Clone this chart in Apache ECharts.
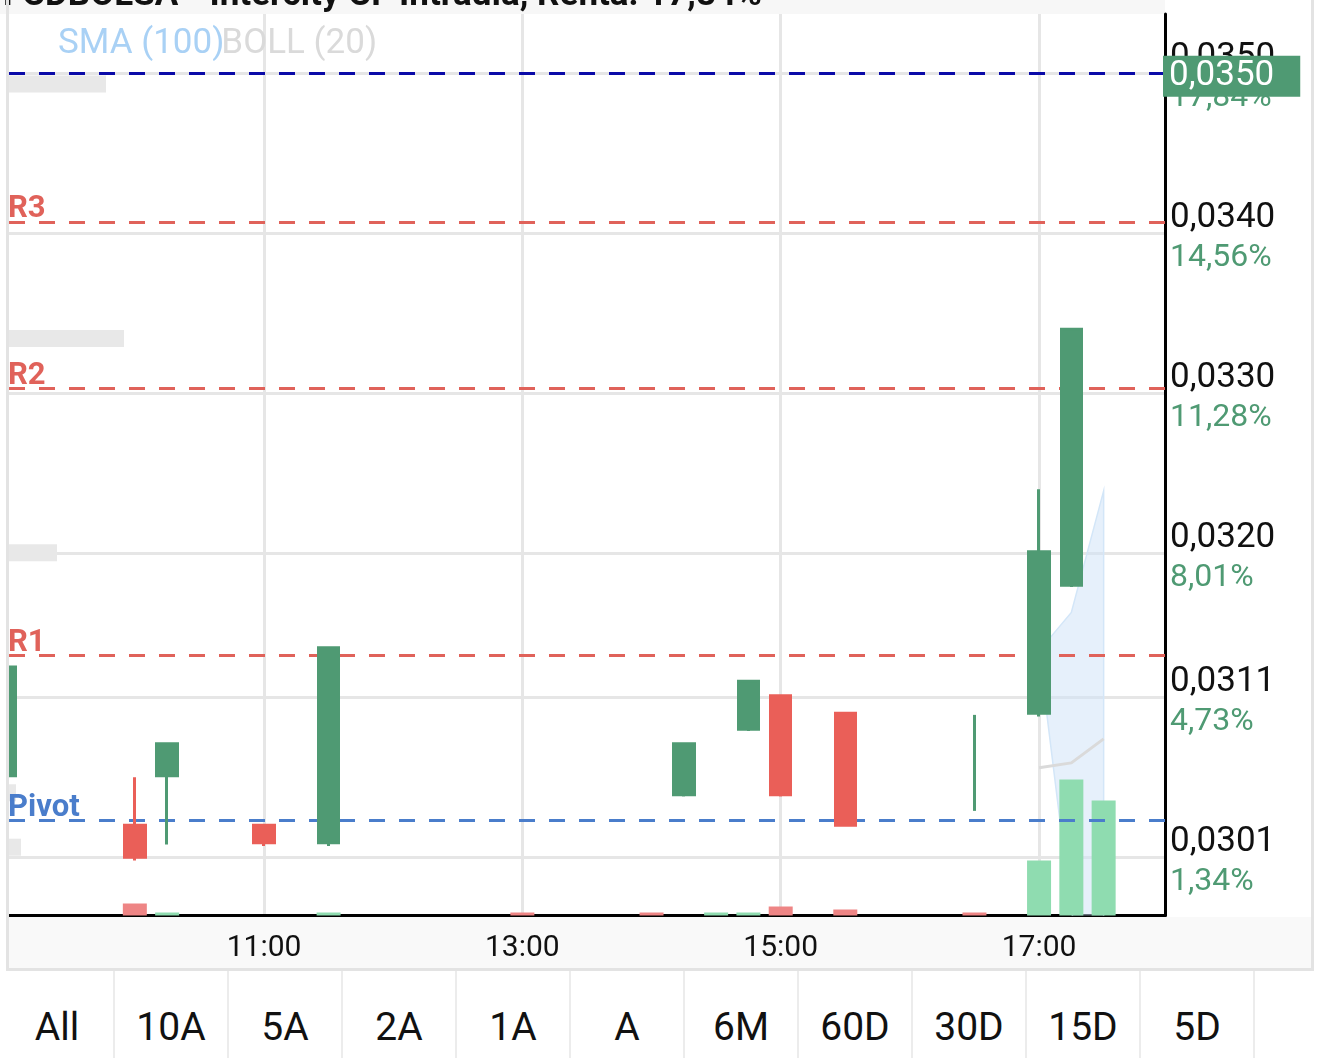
<!DOCTYPE html>
<html>
<head>
<meta charset="utf-8">
<title>FCDBOLSA - Intercity CF Intradía</title>
<script src="https://cdn.jsdelivr.net/npm/echarts@6/dist/echarts.min.js"></script>
<style>
  body { margin: 0; background: #fff; font-family: Roboto, sans-serif; }
  #chart { position: absolute; left: 0; top: 0; width: 1320px; height: 971px; }
  #ranges { position: absolute; left: 1px; top: 971px; height: 87px; display: flex; }
  #ranges div {
    width: 114px; height: 87px; box-sizing: border-box; border-right: 2px solid #ececec;
    text-align: center; line-height: 112px; font-size: 39px; color: #111; overflow: hidden;
  }
</style>
</head>
<body>
<div id="chart"></div>
<div id="ranges"></div>
<script>
// ---- data ----
const titleText = 'FCDBOLSA - Intercity CF Intradía, Renta: 17,84%'

const xTickTimes = ['11:00', '13:00', '15:00', '17:00']
const yTickValues = [0.0301, 0.0311, 0.0320, 0.0330, 0.0340, 0.0350]
const yTickPrices = ['0,0301', '0,0311', '0,0320', '0,0330', '0,0340', '0,0350']
const yTickPercents = ['1,34%', '4,73%', '8,01%', '11,28%', '14,56%', '17,84%']

// 15 minute candles
const candleTimes = ['09:00', '10:00', '10:15', '11:00', '11:30', '14:15', '14:45', '15:00', '15:30', '16:30', '17:00', '17:15']
const opens  = [0.03061, 0.03030, 0.03061, 0.03030, 0.03019, 0.03049, 0.03090, 0.03111, 0.03100, 0.03039, 0.03100, 0.03180]
const closes = [0.03129, 0.03010, 0.03081, 0.03019, 0.03141, 0.03081, 0.03120, 0.03049, 0.03030, 0.03039, 0.03201, 0.03340]
const lows   = [0.03061, 0.03008, 0.03018, 0.03017, 0.03017, 0.03048, 0.03089, 0.03048, 0.03029, 0.03039, 0.03098, 0.03179]
const highs  = [0.03129, 0.03060, 0.03081, 0.03030, 0.03141, 0.03081, 0.03120, 0.03111, 0.03100, 0.03099, 0.03240, 0.03340]

// volume
const volTimes = ['10:00', '10:15', '11:30', '13:00', '14:00', '14:30', '14:45', '15:00', '15:30', '16:30', '17:00', '17:15', '17:30']
const volumes  = [120, 30, 30, 30, 30, 30, 30, 90, 60, 30, 550, 1360, 1150]
const volDir   = [-1, 1, 1, -1, -1, 1, 1, -1, -1, -1, 1, 1, 1]

// BOLL (20)
const bollTimes = ['17:00', '17:15', '17:30']
const bollUpper = [0.03139, 0.03163, 0.03239]
const bollMid   = [0.03066, 0.03069, 0.03084]
const bollLower = [0.03139, 0.02975, 0.02930]

// pivot levels
const levelNames  = ['R3', 'R2', 'R1', 'Pivot']
const levelValues = [0.03407, 0.03303, 0.03136, 0.03033]
const lastPrice = 0.0350

// volume at price (left edge)
const profilePrices  = [0.03493, 0.03334, 0.03200, 0.03050, 0.03016]
const profileVolumes = [97, 115, 48, 7, 12]

const rangeButtons = ['All', '10A', '5A', '2A', '1A', 'A', '6M', '60D', '30D', '15D', '5D', '']

// ---- helpers ----
const toMin = t => { const [h, m] = t.split(':').map(Number); return h * 60 + m }
const pad = n => String(n).padStart(2, '0')
const fmtTime = v => pad(Math.floor(v / 60)) + ':' + pad(Math.round(v % 60))
const fmtPrice = v => v.toFixed(4).replace('.', ',')

const green = '#4f9a73'
const red = '#ea5f58'

const candleData = []
const dojiData = []
candleTimes.forEach((t, i) => {
  const row = [toMin(t), opens[i], closes[i], lows[i], highs[i]]
  if (opens[i] === closes[i]) dojiData.push(row)
  else candleData.push(row)
})

const levelLines = levelNames.map((n, i) => {
  const c = n === 'Pivot' ? '#4a7dcb' : '#e0625a'
  return {
    name: n,
    yAxis: levelValues[i],
    lineStyle: { color: c, type: [16, 14], width: 3 },
    label: {
      show: true, position: 'insideStartTop', formatter: n, color: c,
      fontSize: 31, fontWeight: 'bold', distance: [-1, -3]
    }
  }
})
levelLines.push({
  name: 'last',
  yAxis: lastPrice,
  lineStyle: { color: '#0a0aa8', type: [16, 14], width: 3 },
  label: {
    show: true, position: 'end', formatter: fmtPrice(lastPrice), color: '#fff',
    backgroundColor: green, fontSize: 35, padding: [4, 26, 2, 6], distance: -2, offset: [0, 3]
  }
})

document.getElementById('ranges').innerHTML = rangeButtons.map(b => '<div>' + b + '</div>').join('')

const myChart = echarts.init(document.getElementById('chart'))
myChart.setOption({
  animation: false,
  backgroundColor: '#fff',
  textStyle: { fontFamily: 'Roboto' },
  title: {
    text: titleText, left: -2, top: -26,
    textStyle: { fontSize: 35, fontWeight: 'bold', color: '#111', fontFamily: 'Roboto' }
  },
  legend: {
    left: 53, top: 27, padding: 0, itemWidth: 0, itemHeight: 0, itemGap: -8,
    icon: 'rect', selectedMode: false,
    textStyle: { fontSize: 35 },
    data: [
      { name: 'SMA (100)', textStyle: { color: '#a9d1f5' } },
      { name: 'BOLL (20)', textStyle: { color: '#dadada' } }
    ]
  },
  graphic: [
    { type: 'rect', z: -10, shape: { x: 0, y: 0, width: 1165, height: 14 }, style: { fill: '#f7f7f7' } },
    { type: 'rect', z: -10, shape: { x: 9, y: 917, width: 1302, height: 51 }, style: { fill: '#f9f9f9' } },
    { type: 'rect', z: 100, shape: { x: 0, y: 14, width: 6, height: 957 }, style: { fill: '#fff' } },
    { type: 'rect', z: 100, shape: { x: 6, y: 0, width: 3, height: 971 }, style: { fill: '#e3e3e3' } },
    { type: 'rect', z: -10, shape: { x: 1311, y: 0, width: 3, height: 971 }, style: { fill: '#e3e3e3' } },
    { type: 'rect', z: -10, shape: { x: 6, y: 968, width: 1308, height: 3 }, style: { fill: '#e3e3e3' } }
  ],
  grid: { left: 9, right: 155, top: 14, bottom: 55.5, containLabel: false },
  xAxis: [
    {
      type: 'value', min: 541.55, max: 1078.5, position: 'bottom',
      axisLine: { show: true, onZero: false, lineStyle: { color: '#000', width: 3 } },
      axisTick: { show: false, customValues: xTickTimes.map(toMin) },
      axisLabel: {
        customValues: xTickTimes.map(toMin), formatter: fmtTime,
        fontSize: 30, color: '#111', margin: 18
      },
      splitLine: { show: true, lineStyle: { color: '#e6e6e6', width: 3 } }
    },
    { type: 'value', min: 0, max: 1156, show: false }
  ],
  yAxis: [
    {
      type: 'value', min: 0.029736, max: 0.035371, position: 'right',
      axisLine: { show: true, onZero: false, lineStyle: { color: '#000', width: 3 } },
      axisTick: { show: false, customValues: yTickValues },
      axisLabel: {
        customValues: yTickValues, margin: 5, padding: [10, 0, 0, 0],
        formatter: v => {
          let k = 0
          yTickValues.forEach((t, i) => { if (Math.abs(t - v) < Math.abs(yTickValues[k] - v)) k = i })
          return '{p|' + yTickPrices[k] + '}\n{q|' + yTickPercents[k] + '}'
        },
        rich: {
          p: { fontSize: 35, color: '#111', lineHeight: 40, fontFamily: 'Roboto' },
          q: { fontSize: 32, color: green, lineHeight: 40, fontFamily: 'Roboto' }
        }
      },
      splitLine: { show: true, lineStyle: { color: '#e6e6e6', width: 3 } }
    },
    { type: 'value', min: 0, max: 9015, show: false }
  ],
  series: [
    {
      type: 'custom', xAxisIndex: 1, yAxisIndex: 0, z: 1, silent: true,
      data: profilePrices.map((p, i) => [profileVolumes[i], p]),
      encode: { x: 0, y: 1 },
      renderItem: (params, api) => {
        const start = api.coord([0, api.value(1)])
        const end = api.coord([api.value(0), api.value(1)])
        return {
          type: 'rect',
          shape: { x: start[0], y: start[1] - 9, width: end[0] - start[0], height: 17 },
          style: { fill: '#e8e8e8' }
        }
      }
    },
    {
      // bollinger band drawn as one polygon: upper edge forward, lower edge back
      type: 'custom', xAxisIndex: 0, yAxisIndex: 0, z: 1, silent: true, clip: true,
      data: bollTimes.map((t, i) => [toMin(t), bollUpper[i], bollLower[i]]),
      encode: { x: 0, y: [1, 2] },
      renderItem: (params, api) => {
        if (params.dataIndexInside !== 0) return null
        const n = params.dataInsideLength
        const up = [], low = []
        for (let i = 0; i < n; i++) {
          up.push(api.coord([api.value(0, i), api.value(1, i)]))
          low.push(api.coord([api.value(0, i), api.value(2, i)]))
        }
        return {
          type: 'polygon',
          shape: { points: up.concat(low.reverse()) },
          style: { fill: 'rgba(205,226,248,0.5)', stroke: '#d3e6f8', lineWidth: 1.5 }
        }
      }
    },
    {
      type: 'bar', xAxisIndex: 0, yAxisIndex: 1, z: 2, barWidth: 24, silent: true,
      data: volTimes.map((t, i) => ({
        value: [toMin(t), volumes[i]],
        itemStyle: { color: volDir[i] > 0 ? '#8fdcb0' : '#ee8585' }
      }))
    },
    {
      name: 'BOLL (20)', type: 'line', z: 4, symbol: 'none', silent: true,
      color: '#dadada', lineStyle: { width: 3 },
      data: bollTimes.map((t, i) => [toMin(t), bollMid[i]]),
      markLine: { symbol: ['none', 'none'], silent: true, animation: false, precision: 6, data: levelLines }
    },
    { name: 'SMA (100)', type: 'line', color: '#a9d1f5', symbol: 'none', data: [] },
    {
      type: 'candlestick', z: 5, barWidth: 21, silent: true,
      dimensions: ['t', 'open', 'close', 'low', 'high'],
      encode: { x: 't', y: ['open', 'close', 'low', 'high'] },
      itemStyle: { color: green, color0: red, borderColor: green, borderColor0: red, borderWidth: 3 },
      data: candleData
    },
    {
      type: 'candlestick', z: 5, barWidth: 1, silent: true,
      dimensions: ['t', 'open', 'close', 'low', 'high'],
      encode: { x: 't', y: ['open', 'close', 'low', 'high'] },
      itemStyle: { color: green, color0: green, borderColor: green, borderColor0: green, borderColorDoji: green, borderWidth: 3 },
      data: dojiData
    }
  ]
})
</script>
</body>
</html>
